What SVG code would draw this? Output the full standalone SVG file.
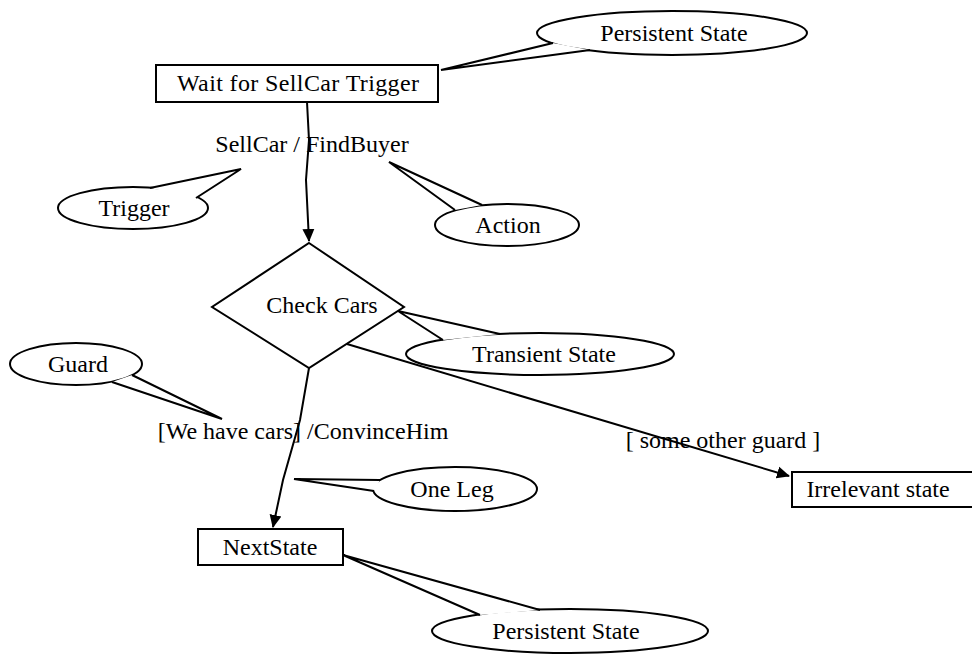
<svg xmlns="http://www.w3.org/2000/svg" width="972" height="658" viewBox="0 0 972 658">
<style>
text{font-family:"Liberation Serif","Times New Roman",serif;font-size:24px;fill:#000;text-anchor:middle}
.box{fill:#fff;stroke:#000;stroke-width:2}
.call{fill:#fff;stroke:#000;stroke-width:2}
.tail{fill:#fff;stroke:#000;stroke-width:2;stroke-linejoin:miter}
.edge{fill:none;stroke:#000;stroke-width:2}
</style>
<defs>
<marker id="ah" markerWidth="14" markerHeight="14" refX="12" refY="7" orient="auto" markerUnits="userSpaceOnUse">
<path d="M0,1 L13,7 L0,13 Z" fill="#000"/>
</marker>
</defs>
<rect width="972" height="658" fill="#fff"/>
<g id="connectors">
<path class="edge" d="M307,102 L309,140 L306,180 L309,241" marker-end="url(#ah)"/>
<path class="edge" d="M309,368 L300,420 L283,480 L273,527" marker-end="url(#ah)"/>
<path class="edge" d="M347,344 L789,476" marker-end="url(#ah)"/>
<text x="312" y="152">SellCar / FindBuyer</text>
<text x="303" y="439">[We have cars] /ConvinceHim</text>
<text x="723" y="448">[ some other guard ]</text>
</g>
<g id="wait-state">
<rect class="box" x="156" y="65" width="282" height="37"/>
<text x="298" y="91" textLength="242">Wait for SellCar Trigger</text>
</g>
<g id="check-cars">
<polygon class="box" points="309,243 404,307 309,368 212,307"/>
<text x="322" y="313">Check Cars</text>
</g>
<g id="next-state">
<rect class="box" x="198" y="529" width="145" height="36"/>
<text x="270" y="555">NextState</text>
</g>
<g id="irrelevant-state">
<rect class="box" x="792" y="472" width="200" height="35"/>
<text x="878" y="497">Irrelevant state</text>
</g>
<g id="note-persistent-top">
<ellipse class="call" cx="672" cy="33" rx="135" ry="22"/>
<path class="tail" d="M553,43 L441,70 L590,50"/>
<text x="674" y="41">Persistent State</text>
</g>
<g id="note-trigger">
<ellipse class="call" cx="133" cy="208" rx="75" ry="21"/>
<path class="tail" d="M150,188 L241,169 L196,198"/>
<text x="134" y="216">Trigger</text>
</g>
<g id="note-action">
<ellipse class="call" cx="507" cy="225" rx="72" ry="21"/>
<path class="tail" d="M482,205 L389,162 L455,210"/>
<text x="508" y="233">Action</text>
</g>
<g id="note-transient">
<ellipse class="call" cx="540" cy="354" rx="134" ry="21"/>
<path class="tail" d="M500,334 L398,311 L443,340"/>
<text x="544" y="362">Transient State</text>
</g>
<g id="note-guard">
<ellipse class="call" cx="76" cy="364" rx="66" ry="21"/>
<path class="tail" d="M132,375 L222,419 L112,382"/>
<text x="78" y="372">Guard</text>
</g>
<g id="note-one-leg">
<ellipse class="call" cx="455" cy="489" rx="82" ry="22"/>
<path class="tail" d="M380,480 L294,479 L374,491"/>
<text x="452" y="497">One Leg</text>
</g>
<g id="note-persistent-bottom">
<ellipse class="call" cx="570" cy="631" rx="138" ry="22"/>
<path class="tail" d="M480,615 L343,555 L540,610"/>
<text x="566" y="639">Persistent State</text>
</g>
</svg>
